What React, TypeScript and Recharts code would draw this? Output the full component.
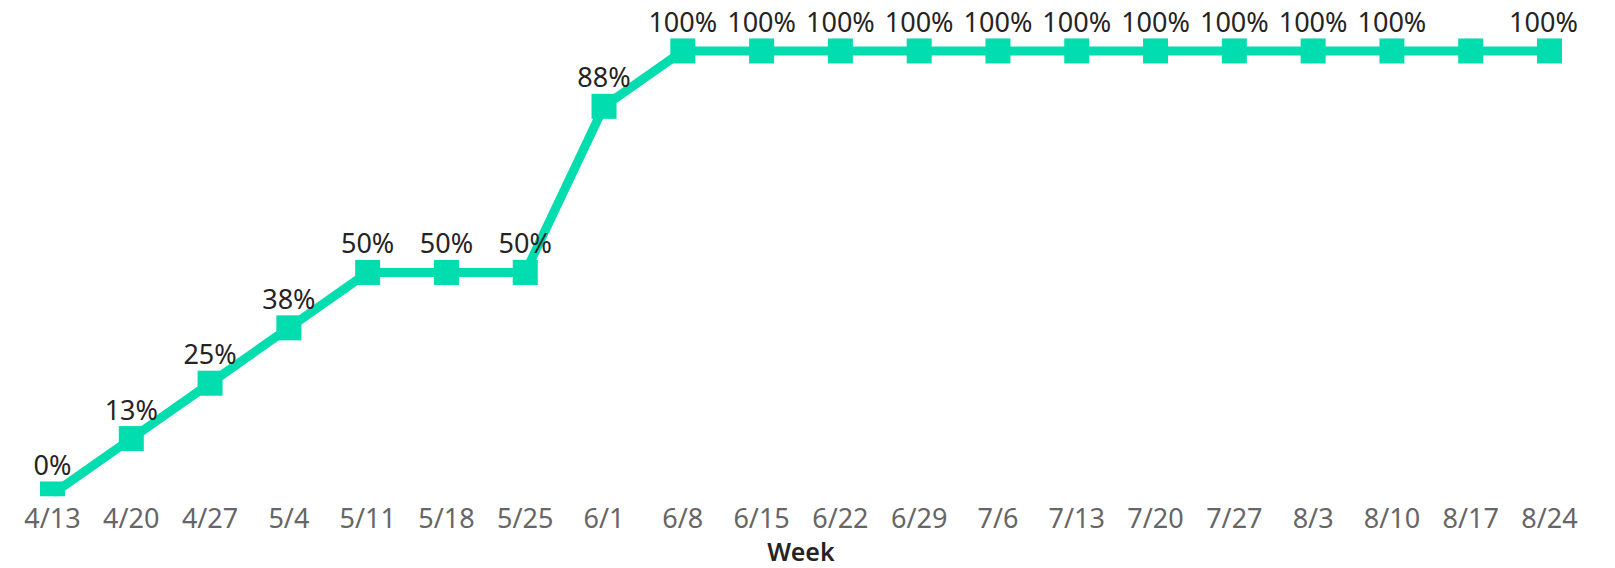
import { LineChart, Line, XAxis, YAxis, LabelList } from "recharts";

const weeks = [
  "4/13", "4/20", "4/27", "5/4", "5/11", "5/18", "5/25", "6/1", "6/8", "6/15",
  "6/22", "6/29", "7/6", "7/13", "7/20", "7/27", "8/3", "8/10", "8/17", "8/24",
];

// percent complete per week
const completion = [
  0, 12.5, 25, 37.5, 50, 50, 50, 87.5, 100, 100,
  100, 100, 100, 100, 100, 100, 100, 100, 100, 100,
];

// Power BI dropped this label (overlap)
const hiddenLabels = ["8/17"];

const data = weeks.map((week, i) => ({ week, value: completion[i] }));

const GREEN = "#01DDAE";
const FONT = "'Segoe UI', 'Noto Sans', sans-serif";

const SquareDot = (props: any) => {
  const { cx, cy, index } = props;
  if (cx == null || cy == null) return null;
  return (
    <rect
      key={`dot-${index}`}
      x={cx - 12.5}
      y={cy - 12.5}
      width={25}
      height={25}
      fill={GREEN}
    />
  );
};

const PointLabel = (props: any) => {
  const { index, value } = props;
  const x = props.x ?? props.viewBox?.x;
  const y = props.y ?? props.viewBox?.y;
  if (hiddenLabels.includes(weeks[index])) return null;
  const dx = index === weeks.length - 1 ? -6 : 0;
  return (
    <text
      x={x + dx}
      y={y - 19}
      textAnchor="middle"
      fill="#252423"
      fontSize={27}
      fontFamily={FONT}
    >
      {`${Math.round(value)}%`}
    </text>
  );
};

export default function App() {
  return (
    <div
      style={{
        position: "fixed",
        left: 0,
        top: 0,
        width: 1615,
        height: 568,
        background: "#fff",
      }}
    >
      <LineChart
        width={1615}
        height={568}
        data={data}
        margin={{ top: 28.8, right: 65.5, left: 52.5, bottom: 0 }}
      >
        <XAxis
          dataKey="week"
          axisLine={false}
          tickLine={false}
          tickMargin={7}
          height={71.8}
          interval={0}
          tick={{ fontSize: 27, fill: "#666666", fontFamily: FONT }}
          label={{
            value: "Week",
            position: "insideBottom",
            offset: 7,
            fill: "#252423",
            fontSize: 25,
            fontWeight: 600,
            fontFamily: FONT,
          }}
        />
        <YAxis hide domain={[-0.5, 105]} allowDataOverflow />
        <Line
          type="linear"
          dataKey="value"
          stroke={GREEN}
          strokeWidth={9}
          dot={SquareDot}
          activeDot={false}
          isAnimationActive={false}
        >
          <LabelList dataKey="value" content={PointLabel} />
        </Line>
      </LineChart>
    </div>
  );
}
